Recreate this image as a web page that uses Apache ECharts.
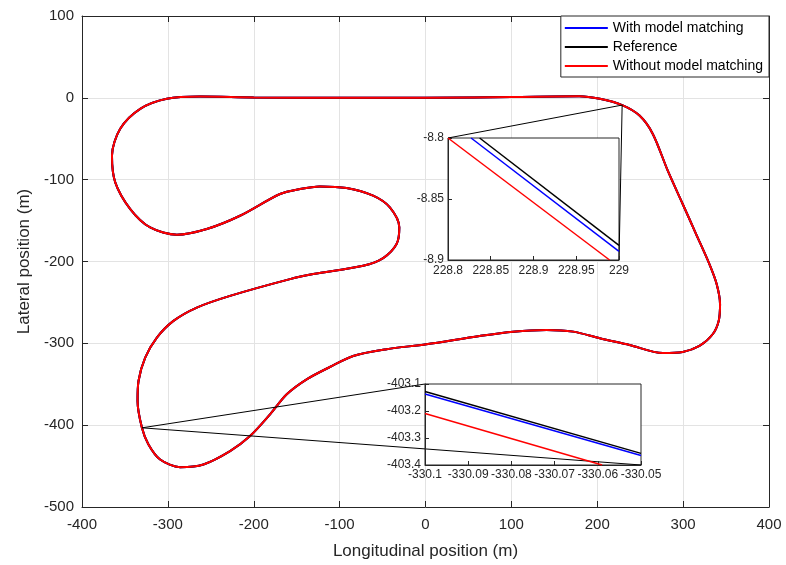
<!DOCTYPE html>
<html><head><meta charset="utf-8">
<script src="https://cdn.jsdelivr.net/npm/echarts@6/dist/echarts.min.js"></script>
<style>html,body{margin:0;padding:0;background:#fff}#c{width:786px;height:565px}</style>
</head><body><div id="c"></div>
<script>
const seriesNames = ['With model matching', 'Reference', 'Without model matching'];
const seriesColors = ['#0000ff', '#000000', '#ff0000'];

// Main track (all three trajectories coincide at this scale)
const trackX = [0, -100, -200, -262.4, -301.2, -332.2, -355.5, -365.1, -361.3, -343.8, -320.6, -289.5, -254.7, -216, -169.4, -146.2, -122.9, -91.9, -61, -41.5, -30.5, -33.7, -49.3, -72.6, -130.7, -157.8, -227.6, -266.3, -293.5, -312.8, -326.4, -334.2, -335.3, -330.2, -322.6, -309, -285.7, -258.6, -227.6, -204.3, -181, -161.6, -138.4, -111.3, -84.2, -45.3, 1, 63, 102, 141, 172, 203, 237.6, 276.3, 299.5, 319, 334.4, 341.4, 343, 339.1, 330.6, 315.1, 299.5, 282.1, 264.7, 249.2, 229, 203, 179, 100, 0];
const trackY = [0, 0, 0.5, 1.6, -1.2, -13.5, -37.9, -70.6, -103.3, -135.9, -158.4, -167.3, -160.3, -144.1, -117.5, -111.4, -108.2, -110.2, -119.6, -133.9, -158.4, -178.7, -195.8, -205.3, -215.4, -221.5, -242, -256.3, -272.6, -293, -317.5, -346, -370.5, -403.2, -423.5, -441.9, -451.3, -448, -431.7, -413.3, -386.8, -362.3, -344, -328.9, -315.4, -307.2, -301.1, -291, -285.7, -283.6, -285.7, -293.8, -302, -311.8, -310.5, -303.2, -288.9, -272.6, -252.1, -227.7, -203.2, -166.5, -129.7, -89, -44.1, -21.7, -8.9, -1.2, 2, 1, 0];

// Inset 1 (zoom near x=229)
const inset1Center = [229, -8.85];
const inset1XRange = [228.8, 229];
const inset1YRange = [-8.9, -8.8];
const inset1Blue = [[228.827, -8.8], [229, -8.893]];
const inset1Black = [[228.837, -8.8], [229, -8.888]];
const inset1Red = [[228.8, -8.8], [228.989, -8.9]];

// Inset 2 (zoom near x=-330)
const inset2Center = [-330.075, -403.25];
const inset2XRange = [-330.1, -330.05];
const inset2YRange = [-403.4, -403.1];
const inset2Blue = [[-330.1, -403.137], [-330.05, -403.365]];
const inset2Black = [[-330.1, -403.128], [-330.05, -403.357]];
const inset2Red = [[-330.1, -403.209], [-330.059, -403.4]];

const FONT = '"Liberation Sans", Arial, sans-serif';
const TXT = '#262626';

const track = trackX.map((x, i) => [x, trackY[i]]);

function mainAxisCommon() {
  return {
    axisLine: { show: true, onZero: false, lineStyle: { color: TXT, width: 1 } },
    axisTick: { show: true, inside: true, length: 6, lineStyle: { color: TXT } },
  };
}
function insetAxis(gi, range, interval, decimals, margin) {
  return {
    type: 'value', gridIndex: gi, min: range[0], max: range[1], interval, z: 4,
    axisLine: { show: true, onZero: false, lineStyle: { color: TXT } },
    axisTick: { show: true, inside: true, length: 4, lineStyle: { color: TXT } },
    axisLabel: { fontSize: 12, color: TXT, margin, fontFamily: FONT, showMinLabel: true, showMaxLabel: true, hideOverlap: false,
      formatter: v => String(parseFloat(v.toFixed(decimals))) },
    splitLine: { show: false }
  };
}

const chart = echarts.init(document.getElementById('c'));
const option = {
  animation: false,
  backgroundColor: '#fff',
  textStyle: { fontFamily: FONT },
  grid: [
    { left: 82, right: 17, top: 16, bottom: 58 },
    { left: 448, top: 138, width: 171, height: 122, show: true, backgroundColor: '#fff', borderColor: TXT, borderWidth: 1, z: 3 },
    { left: 425, top: 384, width: 216, height: 81, show: true, backgroundColor: '#fff', borderColor: TXT, borderWidth: 1, z: 3 }
  ],
  legend: {
    data: seriesNames,
    orient: 'vertical', right: 17, top: 16,
    backgroundColor: '#fff', borderColor: TXT, borderWidth: 1,
    padding: [5, 6, 4, 4], itemGap: 5, itemWidth: 43, itemHeight: 2,
    icon: 'rect',
    textStyle: { fontSize: 14, color: '#000', fontFamily: FONT },
    z: 10
  },
  xAxis: [
    Object.assign({ type: 'value', gridIndex: 0, min: -400, max: 400, interval: 100, position: 'bottom',
      name: 'Longitudinal position (m)', nameLocation: 'middle', nameGap: 36,
      nameTextStyle: { fontSize: 17, color: TXT, fontFamily: FONT },
      axisLabel: { fontSize: 15, color: TXT, margin: 10, fontFamily: FONT },
      splitLine: { show: true, lineStyle: { color: '#e3e3e3', width: 1 } } }, mainAxisCommon()),
    Object.assign({ type: 'value', gridIndex: 0, min: -400, max: 400, interval: 100, position: 'top',
      axisLabel: { show: false }, splitLine: { show: false } }, mainAxisCommon()),
    insetAxis(1, inset1XRange, 0.05, 2, 5),
    insetAxis(2, inset2XRange, 0.01, 2, 4)
  ],
  yAxis: [
    Object.assign({ type: 'value', gridIndex: 0, min: -500, max: 100, interval: 100, position: 'left',
      name: 'Lateral position (m)', nameLocation: 'middle', nameGap: 46,
      nameTextStyle: { fontSize: 17, color: TXT, fontFamily: FONT },
      axisLabel: { fontSize: 15, color: TXT, margin: 8, fontFamily: FONT },
      splitLine: { show: true, lineStyle: { color: '#e3e3e3', width: 1 } } }, mainAxisCommon()),
    Object.assign({ type: 'value', gridIndex: 0, min: -500, max: 100, interval: 100, position: 'right',
      axisLabel: { show: false }, splitLine: { show: false } }, mainAxisCommon()),
    insetAxis(1, inset1YRange, 0.05, 2, 4),
    insetAxis(2, inset2YRange, 0.1, 1, 4)
  ],
  series: []
};

const insetData = [[inset1Blue, inset1Black, inset1Red], [inset2Blue, inset2Black, inset2Red]];
seriesNames.forEach((name, i) => {
  option.series.push({
    name, type: 'line', xAxisIndex: 0, yAxisIndex: 0, data: track,
    smooth: 0.3, symbol: 'none', lineStyle: { color: seriesColors[i], width: 2 },
    itemStyle: { color: seriesColors[i] }, z: 2
  });
});
insetData.forEach((set, k) => {
  set.forEach((d, i) => {
    option.series.push({
      name: seriesNames[i], type: 'line', xAxisIndex: 2 + k, yAxisIndex: 2 + k, data: d,
      symbol: 'none', clip: true, lineStyle: { color: seriesColors[i], width: 1.5 },
      itemStyle: { color: seriesColors[i] }, z: 5
    });
  });
});

chart.setOption(option);

function px(gi, p) { return chart.convertToPixel({ gridIndex: gi }, p); }
const c1 = px(0, inset1Center), c2 = px(0, inset2Center);
const a1 = px(1, [inset1XRange[0], inset1YRange[1]]), b1 = px(1, [inset1XRange[1], inset1YRange[0]]);
const a2 = px(2, [inset2XRange[0], inset2YRange[1]]), b2 = px(2, [inset2XRange[1], inset2YRange[0]]);
function seg(p, q) {
  return { type: 'line', z: 3, shape: { x1: p[0], y1: p[1], x2: q[0], y2: q[1] }, style: { stroke: '#000', lineWidth: 1 } };
}
chart.setOption({ graphic: [seg(c1, a1), seg(c1, b1), seg(c2, a2), seg(c2, b2)] });
</script>
</body></html>
